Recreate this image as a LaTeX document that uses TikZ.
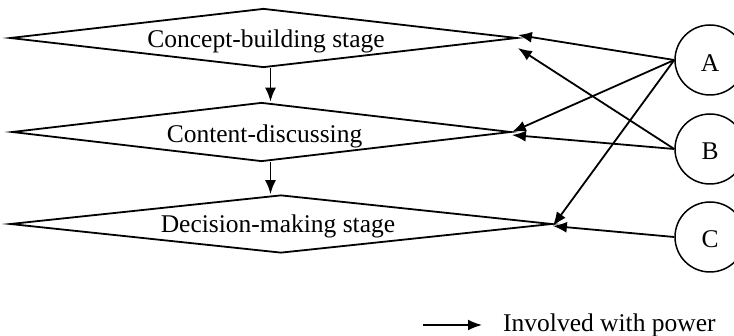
\documentclass[tikz,border=0pt]{standalone}
\usepackage{fontspec}
\setmainfont{Liberation Serif}
\usetikzlibrary{shapes.geometric,arrows.meta}
\begin{document}
\begin{tikzpicture}[x=1pt,y=-1pt,
  stage/.style={draw,shape=diamond,inner sep=0pt,line width=1.8pt},
  actor/.style={draw,circle,minimum size=70pt,inner sep=0pt,line width=1.5pt},
  lbl/.style={anchor=base,inner sep=0pt,font=\fontsize{25.5}{30}\selectfont},
  power/.style={line width=1.8pt,-{Latex[length=14pt,width=11pt]}},
]
\useasboundingbox (0,0) rectangle (734,336);

% the three stages
\node[stage,minimum width=507pt,minimum height=59pt,aspect=8.6] (D1) at (263.5,38) {};
\node[stage,minimum width=499pt,minimum height=59pt,aspect=8.5] (D2) at (261.5,132) {};
\node[stage,minimum width=542pt,minimum height=58pt,aspect=9.3] (D3) at (281,224) {};
\node[lbl] (T1) at (266,48) {Concept-building stage};
\node[lbl] (T2) at (264.5,143) {Content-discussing};
\node[lbl] (T3) at (278,233) {Decision-making stage};

% stage sequence
\draw[power] ([xshift=7pt]D1.south) -- ([xshift=7pt]D1.south |- D2.north);
\draw[power] ([xshift=9pt]D2.south) -- ([xshift=9pt]D2.south |- D3.north);

% participants
\node[actor] (A) at (710,60) {};
\node[actor] (B) at (710,149) {};
\node[actor] (C) at (710,237) {};
\node[lbl] (LA) at (710,72) {A};
\node[lbl] (LB) at (710,160) {B};
\node[lbl] (LC) at (710,248) {C};

% involvement with power
\draw[power] (A.west) -- ([yshift=3pt]D1.east);
\draw[power] (B.west) -- ([yshift=-10pt]D1.east);
\draw[power] (A.west) -- (D2.east);
\draw[power] (B.west) -- ([yshift=-3pt]D2.east);
\draw[power] (A.west) -- ([yshift=-2pt]D3.east);
\draw[power] (C.west) -- ([yshift=-2pt]D3.east);

% legend
\coordinate (L0) at (423,325);
\coordinate (L1) at (482,325);
\draw[power] (L0) -- (L1);
\node[lbl,anchor=base west] (leg) at (503,332) {Involved with power};
\end{tikzpicture}
\end{document}
